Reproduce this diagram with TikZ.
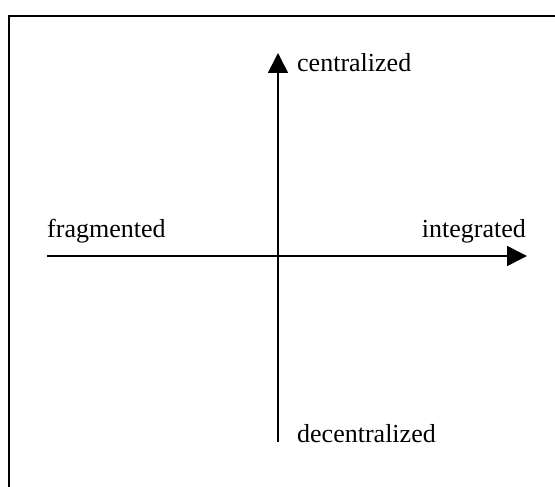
\documentclass[tikz,border=0pt]{standalone}
\usepackage{fontspec}
\setmainfont{Liberation Serif}
\usetikzlibrary{arrows.meta}

\begin{document}
\begin{tikzpicture}[
    x=1pt, y=-1pt,
    every node/.style={font=\fontsize{26}{30}\selectfont},
    framebox/.style={line width=1.6pt},
    axisarrow/.style={-{Triangle[length=20pt, width=20pt]}, line width=1.6pt},
    axislabel/.style={inner sep=0pt}
]
\useasboundingbox (0,0) rectangle (555,487);

% open frame
\draw[framebox] (9,487) -- (9,16) -- (555,16);

% axes
\coordinate (west) at (47,256);
\coordinate (east) at (527,256);
\coordinate (south) at (278,442);
\coordinate (north) at (278,53);

\draw[axisarrow] (west) -- (east);
\draw[axisarrow] (south) -- (north);

% labels
\node[axislabel, anchor=base west] (frag) at (47,237) {fragmented};
\node[axislabel, anchor=base east] (integ) at (526,237) {integrated};
\node[axislabel, anchor=base west] (cent) at (297,72) {centralized};
\node[axislabel, anchor=base west] (decent) at (297,442) {decentralized};

\end{tikzpicture}
\end{document}
